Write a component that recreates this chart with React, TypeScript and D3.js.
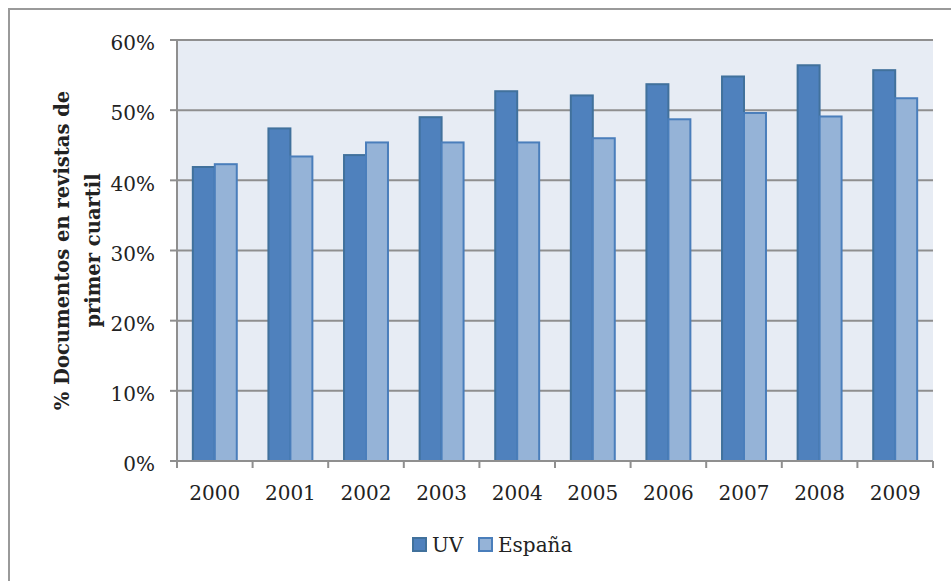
import React from "react";
import * as d3 from "d3";

// valores (% documentos en revistas Q1)
const years = ["2000", "2001", "2002", "2003", "2004", "2005", "2006", "2007", "2008", "2009"];
const uv = [41.9, 47.4, 43.6, 49.0, 52.7, 52.1, 53.7, 54.8, 56.4, 55.7];
const espana = [42.3, 43.4, 45.4, 45.4, 45.4, 46.0, 48.7, 49.6, 49.1, 51.7];
const yTicks = [0, 10, 20, 30, 40, 50, 60];
const seriesNames = ["UV", "España"];

const W = 951;
const H = 581;
const margin = {left: 177, top: 40, right: 18, bottom: 120};
const fillColors = ["#4F81BD", "#95B3D7"];
const strokeColors = ["#41719C", "#4A7EBB"];
const font = "'DejaVu Serif', serif";

const App = () => {
  const innerW = W - margin.left - margin.right;
  const innerH = H - margin.top - margin.bottom;

  const x = d3.scaleBand().domain(years).range([0, innerW]).paddingInner(0).paddingOuter(0);
  const x1 = d3.scaleBand().domain(seriesNames).range([0, x.bandwidth()]).paddingInner(0).paddingOuter(0.72);
  const y = d3.scaleLinear().domain([0, 60]).range([innerH, 0]);

  const series = [uv, espana];
  const boundaries = d3.range(years.length + 1).map(i => i * x.step());

  return (
    <svg width={W} height={H} style={{position: "absolute", left: 0, top: 0, display: "block"}}>
      <rect x={0} y={0} width={W} height={H} fill="#fff" />
      {/* borde exterior */}
      <rect x={9} y={9} width={W + 20} height={H + 20} fill="none" stroke="#9a9a9a" strokeWidth={2} />

      <g transform={`translate(${margin.left},${margin.top})`}>
        <rect x={0} y={0} width={innerW} height={innerH} fill="#E7ECF4" />
        {yTicks.map(t => (
          <g key={t} transform={`translate(0,${y(t)})`}>
            {t > 0 && <line x1={0} x2={innerW} stroke="#8f8f8f" strokeWidth={2} />}
            <line x1={-7} x2={0} stroke="#8f8f8f" strokeWidth={2} />
            <text x={-22} dy="0.36em" y={3} textAnchor="end" fontFamily={font} fontSize={20} fill="#222">
              {t}%
            </text>
          </g>
        ))}

        {years.map((yr, i) => (
          <g key={yr} transform={`translate(${x(yr)},0)`}>
            {series.map((s, k) => (
              <rect
                key={k}
                x={x1(seriesNames[k])}
                y={y(s[i])}
                width={x1.bandwidth()}
                height={innerH - y(s[i])}
                fill={fillColors[k]}
                stroke={strokeColors[k]}
                strokeWidth={2}
              />
            ))}
            <text x={x.bandwidth() / 2} y={innerH + 39} textAnchor="middle" fontFamily={font} fontSize={20} fill="#222">
              {yr}
            </text>
          </g>
        ))}

        {/* ejes */}
        <line x1={0} x2={0} y1={0} y2={innerH} stroke="#8f8f8f" strokeWidth={2} />
        <line x1={-7} x2={innerW} y1={innerH} y2={innerH} stroke="#8f8f8f" strokeWidth={2} />
        {boundaries.map((b, i) => (
          <line key={i} x1={b} x2={b} y1={innerH} y2={innerH + 7} stroke="#8f8f8f" strokeWidth={2} />
        ))}

        <text
          transform={`translate(${62 - margin.left},${innerH / 2}) rotate(-90)`}
          textAnchor="middle"
          fontFamily={font}
          fontWeight="bold"
          fontSize={19.5}
          fill="#222"
        >
          <tspan x={0} dy="0.35em">% Documentos en revistas de</tspan>
          <tspan x={0} dy="1.6em">primer cuartil</tspan>
        </text>
      </g>

      {/* leyenda */}
      <g transform="translate(413,538)">
        {seriesNames.map((n, k) => (
          <g key={n} transform={`translate(${k === 0 ? 0 : 66},0)`}>
            <rect x={0} y={0} width={13} height={13} fill={fillColors[k]} stroke={strokeColors[k]} strokeWidth={2} />
            <text x={19} y={14} fontFamily={font} fontSize={20} fill="#222">
              {n}
            </text>
          </g>
        ))}
      </g>
    </svg>
  );
};

export default App;
